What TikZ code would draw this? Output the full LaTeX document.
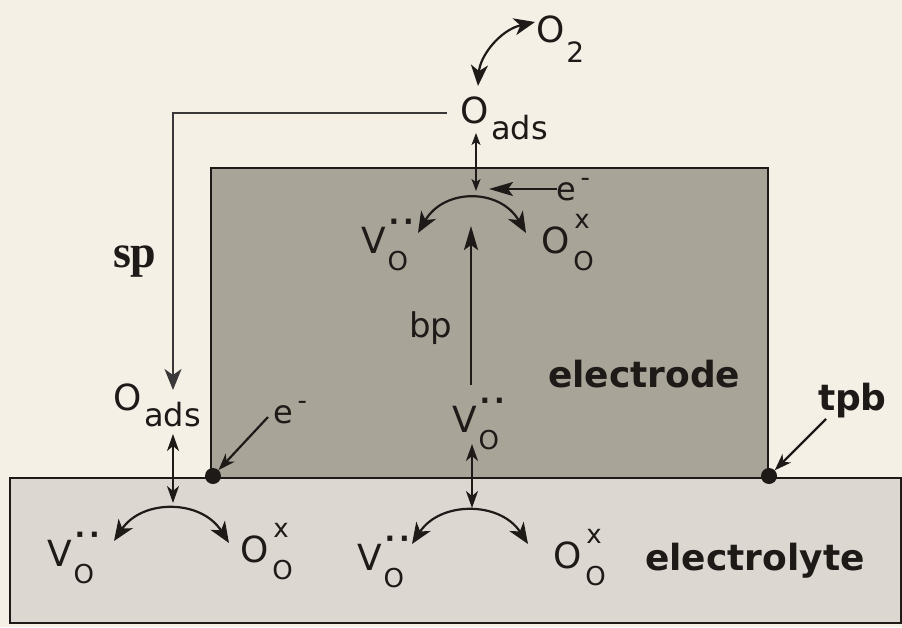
\documentclass[tikz,border=0pt]{standalone}
\usepackage{fontspec}
\setmainfont{DejaVu Sans}
\newfontfamily\spfont{Liberation Serif}
\usetikzlibrary{arrows.meta}
\definecolor{bg}{HTML}{F5F0E6}
\definecolor{electrodecol}{HTML}{A9A498}
\definecolor{electrolytecol}{HTML}{DCD8D1}
\definecolor{ink}{HTML}{1E1A18}
\definecolor{spline}{HTML}{3A3838}
\newcommand\subf{\fontsize{26}{26}\selectfont}
\newcommand\dotf{\fontsize{28}{28}\selectfont\bfseries}
\newcommand\mainf{\fontsize{36}{36}\selectfont}
\newcommand\VOsym{V\kern2pt\rlap{\raisebox{-17pt}{\subf O}}\raisebox{22pt}{\dotf\kern1pt·\kern4pt·}}
\newcommand\OOsym{O\kern4pt\rlap{\raisebox{-17pt}{\subf O}}\raisebox{25pt}{\subf\kern1pt x}}
\newcommand\Oads{O\kern3pt\raisebox{-16pt}{\fontsize{32}{32}\selectfont ads}}
\newcommand\Otwo{O\kern2pt\raisebox{-20pt}{\fontsize{28}{28}\selectfont 2}}
\newcommand\elec{{\fontsize{32}{32}\selectfont e}\kern5pt\raisebox{14pt}{\subf -}}
\tikzset{
  bigT/.tip={Stealth[length=21pt,width=17pt,inset=6pt]},
  longT/.tip={Stealth[length=24pt,width=14pt,inset=5pt]},
  midT/.tip={Stealth[length=17pt,width=12pt,inset=5pt]},
  smallT/.tip={Stealth[length=12pt,width=9pt,inset=3pt]},
}
\begin{document}
\begin{tikzpicture}[x=1pt,y=-1pt,
  every node/.style={inner sep=0pt,outer sep=0pt,text=ink},
  lbl/.style={anchor=base west,font=\mainf},
  boldlbl/.style={anchor=base west,font=\fontsize{36}{36}\selectfont\bfseries},
  conn/.style={draw=ink,line width=2.2pt},
  thinconn/.style={draw=ink,line width=1.4pt},
  dot/.style={circle,fill=ink,minimum size=16pt}]
\fill[bg] (0,0) rectangle (902,627);
\useasboundingbox (0,0) rectangle (902,627);
% electrolyte and electrode
\filldraw[fill=electrolytecol,draw=ink,line width=1.5pt] (10,478) rectangle (901,623);
\filldraw[fill=electrodecol,draw=ink,line width=2pt] (211,168) rectangle (768,478);
\draw[ink,line width=2.5pt] (10,478) -- (901,478);
% triple phase boundary dots
\node[dot] (dotL) at (213,476) {};
\node[dot] (dotR) at (769,476) {};
% species labels
\node[lbl] (oadsT) at (460,123) {\Oads};
\node[lbl] (otwo) at (536,42) {\Otwo};
\node[lbl] (voA) at (361,253) {\VOsym};
\node[lbl] (ooA) at (541,253) {\OOsym};
\node[lbl] (eT) at (556,200) {\elec};
\node[lbl] (voB) at (452,432) {\VOsym};
\node[lbl] (voC) at (357,570) {\VOsym};
\node[lbl] (ooC) at (553,568) {\OOsym};
\node[lbl] (voD) at (47,566) {\VOsym};
\node[lbl] (ooD) at (240,562) {\OOsym};
\node[lbl] (oadsL) at (113,410) {\Oads};
\node[lbl] (eL) at (273,423) {\elec};
\node[anchor=base west,font=\fontsize{34}{34}\selectfont] (bp) at (409,337) {bp};
\node[boldlbl] (electrode) at (548,387) {electrode};
\node[boldlbl] (electrolyte) at (645,570) {electrolyte};
\node[boldlbl] (tpb) at (818,410) {tpb};
\node[anchor=base west,font=\spfont\bfseries\fontsize{46}{46}\selectfont] (sp) at (113,267) {sp};
% coordinates for connector ends
\coordinate (gasA) at (478,86);
\coordinate (gasB) at (535,22);
\coordinate (adsA) at (476,133);
\coordinate (adsB) at (476,191);
\coordinate (eTs) at (557,189);
\coordinate (eTe) at (489,189);
\coordinate (upL) at (418,233);
\coordinate (upR) at (526,233);
\coordinate (bpS) at (471,385);
\coordinate (bpE) at (471,226);
\coordinate (midA) at (472,444);
\coordinate (midB) at (472,508);
\coordinate (loML) at (412,544);
\coordinate (loMR) at (528,544);
\coordinate (loLL) at (114,541);
\coordinate (loLR) at (229,543);
\coordinate (leftA) at (173,434);
\coordinate (leftB) at (173,503);
\coordinate (spS) at (447,113);
\coordinate (spE) at (173,390);
\coordinate (eLs) at (268,417);
\coordinate (tpbS) at (826,419);
% connectors
\draw[conn,{bigT}-{bigT}] (gasA) .. controls (480,56) and (500,30) .. (gasB);
\draw[thinconn,{smallT}-{smallT}] (adsA) -- (adsB);
\draw[conn,-{longT}] (eTs) -- (eTe);
\draw[conn,{bigT}-{bigT}] (upL) .. controls (444,188) and (500,188) .. (upR);
\draw[conn,-{longT}] (bpS) -- (bpE);
\draw[conn,{midT}-{midT}] (midA) -- (midB);
\draw[conn,{bigT}-{bigT}] (loML) .. controls (440,501) and (500,501) .. (loMR);
\draw[conn,{bigT}-{bigT}] (loLL) .. controls (142,499) and (201,499) .. (loLR);
\draw[conn,{midT}-{midT}] (leftA) -- (leftB);
\draw[draw=spline,line width=1.4pt,-{bigT}] (spS) -| (spE);
\draw[conn,-{midT}] (eLs) -- (dotL);
\draw[conn,-{midT}] (tpbS) -- (dotR);
\end{tikzpicture}
\end{document}
